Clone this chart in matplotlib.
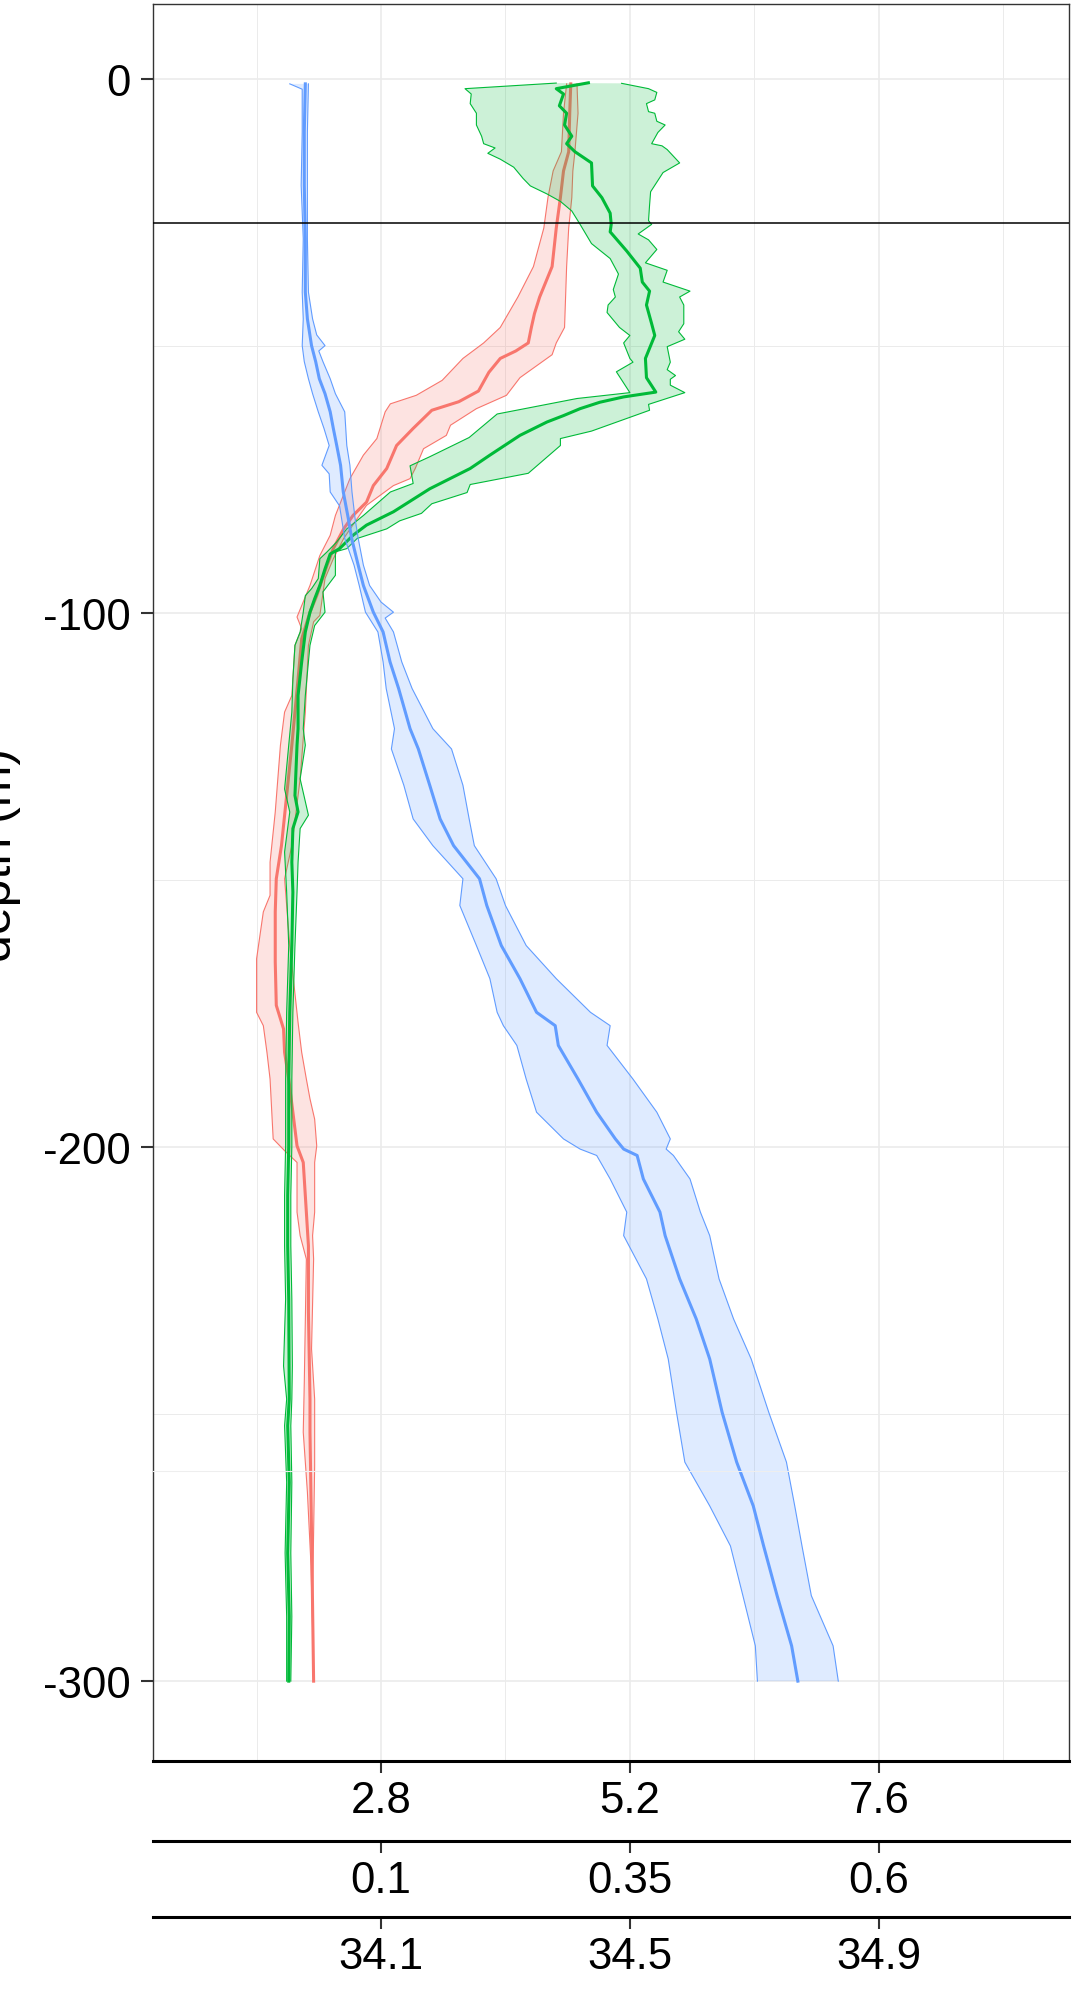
import numpy as np
import matplotlib
matplotlib.use("Agg")
import matplotlib.pyplot as plt

plt.rcParams['font.family'] = ['Liberation Sans', 'DejaVu Sans']

# ---------------- data (x in units of the top axis scale) ----------------
blue_mean_d = [-1, -10, -20, -30, -40, -45, -50, -53, -56.2, -59, -62.4, -65.5, -68.7, -72.4, -77.4, -82.4,
               -86.1, -91.1, -94.9, -99.9, -103.6, -109.2, -114.2, -121.7, -125.5, -132.3, -138.6, -143.6,
               -149.8, -154.8, -162.3, -168.5, -174.8, -177.3, -181.0, -187.3, -193.5, -198.5, -200.4, -201.6,
               -206.0, -212.2, -216.6, -224.7, -232.2, -239.7, -249.7, -259.0, -267.2, -274.7, -284.0, -293.4, -300]
blue_mean_x = [2.07, 2.06, 2.06, 2.07, 2.07, 2.09, 2.13, 2.17, 2.205, 2.26, 2.31, 2.34, 2.373, 2.41, 2.436, 2.485,
               2.517, 2.58, 2.63, 2.726, 2.82, 2.887, 2.97, 3.08, 3.16, 3.27, 3.37, 3.50,
               3.75, 3.82, 3.96, 4.14, 4.30, 4.48, 4.51, 4.70, 4.88, 5.06, 5.14, 5.27,
               5.33, 5.49, 5.54, 5.68, 5.84, 5.97, 6.09, 6.23, 6.39, 6.49, 6.62, 6.76, 6.82]
blue_lo_d = [-1, -2, -10, -20, -30, -40, -45, -50, -53, -56.2, -59, -62.4, -65.5, -68.7, -72.4, -74, -77.4, -80,
             -82.4, -86.1, -91.1, -94.9, -99.9, -103.6, -109.2, -114.2, -121.7, -125.5, -132.3, -138.6, -143.6,
             -149.8, -154.8, -162.3, -168.5, -174.8, -177.3, -181.0, -187.3, -193.5, -198.5, -200.4, -201.6,
             -206.0, -212.2, -216.6, -224.7, -232.2, -239.7, -249.7, -259.0, -267.2, -274.7, -284.0, -293.4, -300]
blue_lo_x = [1.92, 2.04, 2.04, 2.03, 2.05, 2.04, 2.05, 2.04, 2.06, 2.10, 2.14, 2.195, 2.25, 2.30, 2.23, 2.30, 2.31, 2.40,
             2.42, 2.45, 2.54, 2.59, 2.65, 2.77, 2.82, 2.85, 2.93, 2.90, 3.02, 3.11, 3.30,
             3.59, 3.56, 3.72, 3.85, 3.92, 3.98, 4.11, 4.20, 4.30, 4.56, 4.72, 4.88,
             5.01, 5.17, 5.14, 5.36, 5.47, 5.57, 5.65, 5.73, 5.97, 6.17, 6.29, 6.41, 6.43]
blue_hi_d = [-1, -10, -20, -30, -40, -45, -48, -50, -51, -53, -56.2, -59, -62.4, -65.5, -68.7, -72.4, -77.4, -82.4,
             -86.1, -91.1, -94.9, -98, -99.9, -101, -103.6, -109.2, -114.2, -121.7, -125.5, -132.3, -138.6, -143.6,
             -149.8, -154.8, -162.3, -168.5, -174.8, -177.3, -181.0, -187.3, -193.5, -198.5, -200.4, -201.6,
             -206.0, -212.2, -216.6, -224.7, -232.2, -239.7, -249.7, -259.0, -267.2, -274.7, -284.0, -293.4, -300]
blue_hi_x = [2.10, 2.09, 2.09, 2.09, 2.10, 2.14, 2.18, 2.26, 2.20, 2.24, 2.31, 2.36, 2.45, 2.46, 2.47, 2.50, 2.52, 2.55,
             2.58, 2.63, 2.69, 2.80, 2.92, 2.84, 2.92, 3.00, 3.10, 3.30, 3.48, 3.59, 3.65, 3.70,
             3.91, 4.00, 4.20, 4.49, 4.82, 5.01, 4.98, 5.23, 5.46, 5.59, 5.55, 5.62,
             5.78, 5.88, 5.97, 6.06, 6.20, 6.37, 6.54, 6.71, 6.79, 6.86, 6.95, 7.16, 7.21]

red_mean_d = [-1, -6.5, -13.7, -17.3, -22.3, -28.0, -35.2, -40.9, -44, -46.6, -49.5, -51, -52.4, -55, -58.5, -60.5,
              -62.1, -65.5, -68.7, -73.0, -76.2, -79.3, -81.8, -84.3, -88.0, -91.1, -96.8, -99.9, -104.9, -112.4,
              -118.6, -124.8, -134.2, -143.6, -149.8, -156.0, -165.4, -173.5, -177.9, -182.3, -187.3, -193.5,
              -199.8, -202.9, -209.1, -218.5, -231.0, -247.2, -253.4, -272.1, -300]
red_mean_x = [4.63, 4.62, 4.61, 4.56, 4.53, 4.49, 4.45, 4.33, 4.28, 4.25, 4.22, 4.10, 3.95, 3.84, 3.74, 3.55,
              3.29, 3.11, 2.95, 2.855, 2.726, 2.66, 2.53, 2.44, 2.34, 2.28, 2.18, 2.115, 2.035, 2.00,
              1.97, 1.94, 1.89, 1.84, 1.79, 1.78, 1.78, 1.79, 1.86, 1.87, 1.91, 1.95,
              1.99, 2.05, 2.07, 2.10, 2.10, 2.115, 2.115, 2.13, 2.15]
red_lo_d = [-1, -6.5, -13.7, -17.3, -22.3, -28.0, -35.2, -40.9, -46.6, -49.5, -52.4, -56.5, -59.3, -60.9, -62.4,
            -67.4, -70.5, -74.9, -81.8, -85.5, -89.3, -94.9, -100.8, -103, -106.1, -115.5, -118.6, -124.8, -137.3,
            -146.7, -152.9, -156.0, -164.8, -174.8, -177.3, -182.3, -187.3, -198.5, -200.7, -202.9, -212.2,
            -216.6, -221.0, -244.1, -253.4, -264.6, -278.4, -290, -300]
red_lo_x = [4.59, 4.56, 4.54, 4.46, 4.41, 4.37, 4.27, 4.12, 3.95, 3.79, 3.59, 3.39, 3.14, 2.89, 2.84,
            2.76, 2.63, 2.50, 2.36, 2.31, 2.21, 2.115, 1.99, 2.035, 1.97, 1.94, 1.87, 1.83, 1.78,
            1.73, 1.73, 1.665, 1.60, 1.60, 1.665, 1.70, 1.73, 1.76, 1.87, 1.99, 1.99,
            2.02, 2.08, 2.06, 2.05, 2.09, 2.125, 2.14, 2.15]
red_hi_d = [-1, -6.5, -13.7, -17.3, -22.3, -28.0, -35.2, -40.9, -46.6, -49.5, -51.7, -56.0, -59.3, -61.8, -64.9,
            -66.8, -69.3, -73.0, -74.9, -76.2, -79.9, -82.4, -86.1, -89.9, -93.6, -100.5, -101.7, -106.1, -118.6,
            -131.1, -143.6, -149.8, -162.3, -176.7, -182.3, -187.3, -191.0, -194.8, -199.8, -202.9, -212.2,
            -216.6, -221.0, -237.8, -247.2, -259.7, -272.1, -284.6, -300]
red_hi_x = [4.69, 4.70, 4.67, 4.65, 4.64, 4.61, 4.59, 4.58, 4.57, 4.49, 4.45, 4.14, 4.01, 3.72, 3.47,
            3.43, 3.21, 3.13, 3.08, 2.92, 2.66, 2.57, 2.44, 2.34, 2.26, 2.21, 2.15, 2.10, 2.07,
            2.02, 1.94, 1.87, 1.92, 2.00, 2.035, 2.08, 2.115, 2.16, 2.18, 2.16, 2.16,
            2.14, 2.15, 2.13, 2.16, 2.16, 2.15, 2.14, 2.15]

green_mean_d = [-0.8, -1.9, -2.9, -5.1, -6.5, -8.7, -10.8, -12.2, -13.7, -15.8, -20.1, -22.3, -25.2, -27.3, -28.7,
                -32.3, -35.5, -38.1, -39.8, -42.4, -45.9, -48.1, -52.4, -56.0, -58.7, -59.6, -60.6, -61.8, -63.1,
                -64.3, -66.8, -70.5, -73.0, -76.8, -81.1, -83.6, -85.5, -88.0, -89.0, -91.8, -94.9, -97.4, -99.9,
                -103.6, -109.2, -115.5, -121.7, -124.8, -134.2, -137.3, -140.4, -146.7, -152.3, -162.3, -174.8,
                -187.3, -199.8, -209.1, -218.5, -228.5, -247.2, -252.2, -262.8, -276.0, -287.9, -300]
green_mean_x = [4.80, 4.49, 4.56, 4.52, 4.59, 4.57, 4.64, 4.59, 4.67, 4.83, 4.84, 4.93, 5.01, 5.02, 5.01,
                5.17, 5.30, 5.32, 5.39, 5.36, 5.41, 5.44, 5.35, 5.36, 5.45, 5.14, 4.91, 4.72, 4.56,
                4.40, 4.14, 3.85, 3.66, 3.27, 2.92, 2.66, 2.53, 2.40, 2.31, 2.26, 2.21, 2.16, 2.115,
                2.07, 2.035, 2.00, 2.00, 1.99, 1.97, 2.00, 1.95, 1.94, 1.95, 1.94, 1.92,
                1.91, 1.91, 1.90, 1.90, 1.91, 1.915, 1.90, 1.915, 1.90, 1.915, 1.91]
green_lo_d = [-0.85, -1.9, -2.9, -4.7, -6.5, -8.7, -10.8, -12.2, -13.0, -14.0, -15.1, -16.6, -18.7, -20.1, -21.6,
              -23.0, -24.8, -27.3, -30.9, -33.7, -36.6, -39.5, -40.9, -42.4, -43.8, -46.6, -48.1, -49.5, -52.4,
              -53.1, -54.9, -58.8, -59.9, -62.8, -67.2, -70.8, -72.5, -75.8, -77.4, -81.8, -84.3, -86.8, -88.6,
              -89.9, -93.6, -95.5, -96.8, -99.9, -103.6, -106.1, -112.4, -118.6, -124.8, -133.0, -137.3, -144.8,
              -152.3, -162.3, -174.8, -187.3, -199.8, -209.1, -218.5, -228.5, -241, -247.2, -252.2, -262.8,
              -276.0, -287.9, -300]
green_lo_x = [4.49, 3.61, 3.67, 3.66, 3.72, 3.72, 3.77, 3.79, 3.90, 3.83, 3.95, 4.08, 4.17, 4.24, 4.40,
              4.53, 4.64, 4.72, 4.83, 5.01, 5.09, 5.04, 5.06, 4.99, 4.98, 5.10, 5.20, 5.14, 5.20,
              5.23, 5.07, 5.20, 4.69, 3.92, 3.65, 3.27, 3.08, 3.11, 2.89, 2.63, 2.47, 2.37, 2.28,
              2.21, 2.195, 2.13, 2.07, 2.05, 2.02, 1.97, 1.95, 1.94, 1.91, 1.87, 1.92, 1.87,
              1.89, 1.91, 1.89, 1.88, 1.88, 1.87, 1.87, 1.88, 1.86, 1.89, 1.87, 1.89,
              1.875, 1.89, 1.89]
green_hi_d = [-0.9, -1.9, -2.6, -4.0, -4.7, -6.2, -6.5, -8.0, -8.7, -10.1, -12.2, -12.6, -13.3, -15.8, -17.6,
              -19.1, -21.2, -23.7, -26.6, -27.3, -29.1, -30.2, -32.0, -34.5, -35.9, -38.1, -39.8, -40.9, -42.4,
              -45.9, -47.4, -48.8, -50.2, -53.1, -54.5, -55.6, -56.3, -57.4, -58.8, -61.0, -62.1, -66.0, -67.4,
              -68.7, -73.9, -76.0, -77.5, -79.6, -81.4, -82.8, -84.3, -86.1, -88.0, -88.6, -93.0, -96.1, -99.9,
              -102.4, -106.1, -109.2, -115.5, -121.7, -124.8, -131.1, -137.9, -140.4, -146.7, -152.3, -162.3,
              -174.8, -187.3, -199.8, -209.1, -218.5, -228.5, -241, -247.2, -252.2, -262.8, -276.0, -287.9, -300]
green_hi_x = [5.12, 5.38, 5.46, 5.44, 5.36, 5.38, 5.44, 5.46, 5.54, 5.47, 5.41, 5.51, 5.56, 5.68, 5.52,
              5.47, 5.40, 5.39, 5.38, 5.41, 5.28, 5.38, 5.46, 5.35, 5.56, 5.52, 5.78, 5.68, 5.72,
              5.72, 5.67, 5.73, 5.56, 5.59, 5.56, 5.64, 5.59, 5.59, 5.73, 5.38, 5.39, 4.83, 4.53,
              4.53, 4.22, 3.66, 3.63, 3.29, 3.19, 2.98, 2.855, 2.57, 2.47, 2.36, 2.36, 2.24, 2.26,
              2.16, 2.115, 2.10, 2.07, 2.05, 2.07, 2.02, 2.10, 2.02, 2.00, 1.99, 1.97,
              1.95, 1.94, 1.94, 1.93, 1.93, 1.94, 1.945, 1.94, 1.93, 1.94, 1.93, 1.94, 1.93]

x1_ticks = [2.8, 5.2, 7.6]
x1_labels = ['2.8', '5.2', '7.6']
x2_ticks = [0.1, 0.35, 0.6]
x2_labels = ['0.1', '0.35', '0.6']
x3_ticks = [34.1, 34.5, 34.9]
x3_labels = ['34.1', '34.5', '34.9']
y_ticks = [0, -100, -200, -300]
y_labels = ['0', '-100', '-200', '-300']
hline_depth = -27
seam_depth = -260.7

# ---------------- figure ----------------
W, H = 1074, 1999
fig = plt.figure(figsize=(W / 100, H / 100), dpi=100)
L, R, T, B = 153, 1069, 5, 1762
ax = fig.add_axes([L / W, (H - B) / H, (R - L) / W, (B - T) / H])
ax.set_xlim(0.601, 9.435)
ax.set_ylim(-314.95, 13.95)

grid_c = '#EBEBEB'
for v in [1.6, 4.0, 6.4, 8.8]:
    ax.axvline(v, color=grid_c, lw=0.7, zorder=0)
for v in x1_ticks:
    ax.axvline(v, color=grid_c, lw=1.2, zorder=0)
for v in [-50, -150, -250]:
    ax.axhline(v, color=grid_c, lw=0.7, zorder=0)
for v in y_ticks:
    ax.axhline(v, color=grid_c, lw=1.2, zorder=0)

series = [
    ('#F8766D', red_mean_d, red_mean_x, red_lo_d, red_lo_x, red_hi_d, red_hi_x),
    ('#00BA38', green_mean_d, green_mean_x, green_lo_d, green_lo_x, green_hi_d, green_hi_x),
    ('#619CFF', blue_mean_d, blue_mean_x, blue_lo_d, blue_lo_x, blue_hi_d, blue_hi_x),
]
z = 2
for col, md, mx, ld, lx, hd, hx in series:
    px = np.concatenate([lx, hx[::-1]])
    py = np.concatenate([ld, hd[::-1]])
    ax.fill(px, py, facecolor=col, alpha=0.2, edgecolor='none', zorder=z)
    ax.plot(lx, ld, color=col, lw=0.8, zorder=z + 0.1)
    ax.plot(hx, hd, color=col, lw=0.8, zorder=z + 0.1)
    ax.plot(mx, md, color=col, lw=2.2, zorder=z + 0.2, solid_joinstyle='round')
    z += 1

ax.axhline(hline_depth, color='black', lw=1.1, zorder=10)
ax.axhline(seam_depth, color='#EEEEEE', lw=0.8, zorder=10)

for s in ['top', 'right', 'left']:
    ax.spines[s].set_color('#333333')
    ax.spines[s].set_linewidth(1.0)
ax.spines['bottom'].set_color('black')
ax.spines['bottom'].set_linewidth(2.2)

ax.set_xticks(x1_ticks, labels=x1_labels)
ax.set_yticks(y_ticks, labels=y_labels)
ax.tick_params(axis='both', which='both', direction='out', color='#333333', width=1.5,
               labelsize=31.5, labelcolor='black')
ax.tick_params(axis='x', length=8.6, pad=5.4)
ax.tick_params(axis='y', length=9.0, pad=7.2)


def to_a(x):
    return 0.1 + (np.asarray(x) - 2.8) * 0.25 / 2.4


def from_a(a):
    return 2.8 + (np.asarray(a) - 0.1) * 2.4 / 0.25


def to_s(x):
    return 34.1 + (np.asarray(x) - 2.8) * 0.4 / 2.4


def from_s(s):
    return 2.8 + (np.asarray(s) - 34.1) * 2.4 / 0.4


for loc_px, fwd, inv, ticks, labels in [(1842, to_a, from_a, x2_ticks, x2_labels),
                                         (1918, to_s, from_s, x3_ticks, x3_labels)]:
    loc = -(loc_px - B) / (B - T)
    sec = ax.secondary_xaxis(loc, functions=(fwd, inv))
    sec.set_xticks(ticks, labels=labels)
    sec.spines['bottom'].set_color('black')
    sec.spines['bottom'].set_linewidth(2.2)
    sec.tick_params(axis='x', direction='out', color='#333333', width=1.5, length=8.6, pad=5.4,
                    labelsize=31.5, labelcolor='black')

fig.text(11 / W, (H - 855) / H, 'depth (m)', rotation=90, rotation_mode='anchor',
         ha='center', va='baseline', fontsize=36, color='black')

fig.savefig('out.png', dpi=100, facecolor='white')
